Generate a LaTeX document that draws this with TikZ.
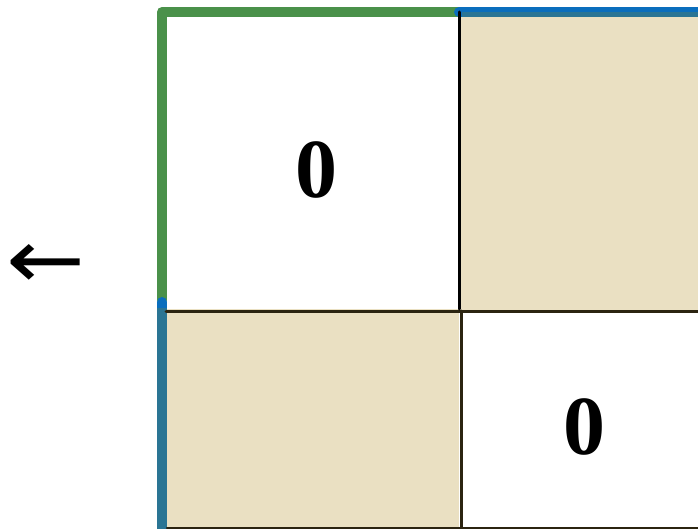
\documentclass[tikz,border=0pt]{standalone}
\usepackage{fontspec}
\setmainfont{Liberation Serif}
\newfontfamily\arrowfont{DejaVu Sans}
\usepackage{xcolor}
\usepackage{graphicx}
\usepackage{tikz}

\definecolor{cellbeige}{HTML}{EAE0C2}
\definecolor{edgegreen}{HTML}{4A914A}
\definecolor{edgeblue}{HTML}{0A6EBD}
\definecolor{edgeteal}{HTML}{2A7594}
\definecolor{gridline}{HTML}{2B2410}

\begin{document}
\begin{tikzpicture}[x=1pt, y=-1pt, line cap=round, line join=round,
    digit/.style={inner sep=0pt, font=\fontsize{84}{84}\selectfont\bfseries},
    edge/.style={line width=10pt}]
    \useasboundingbox (0,0) rectangle (698,529);

    % Shaded cells
    \fill[cellbeige] (459,12) rectangle (698,311);
    \fill[cellbeige] (162,309) rectangle (459,529);

    % Outer edges
    \draw[edgegreen, edge] (162,300) -- (162,12) -- (459,12);
    \draw[edgeblue, edge] (459,12) -- (710,12);
    \draw[edgeblue, edge] (162,302) -- (162,540);
    \fill[edgeteal] (157,308) rectangle (167,529);
    \fill[edgeteal] (462,12) rectangle (698,17);

    % Grid lines
    \draw[gridline, line width=3pt] (166,311) -- (698,311);
    \draw[black, line width=3pt] (459,12) -- (459,309);
    \draw[gridline, line width=3pt] (461,311) -- (461,529);
    \draw[gridline, line width=2.5pt] (167,528) -- (698,528);

    % Entries
    \node[digit] (zeroTL) at (316,170) {0};
    \node[digit] (zeroBR) at (584,427) {0};

    % Arrow on the left
    \node[inner sep=0pt] (leftArrow) at (46,266)
        {\resizebox{79pt}{44pt}{\arrowfont ←}};

\end{tikzpicture}
\end{document}
